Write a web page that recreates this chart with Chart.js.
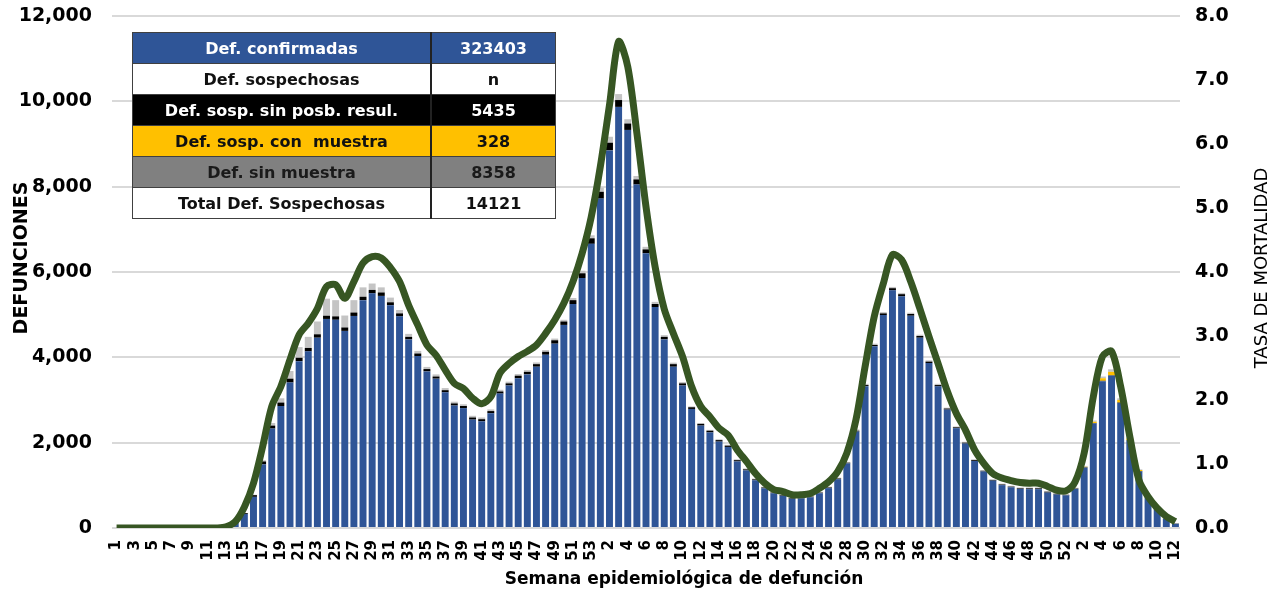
<!DOCTYPE html>
<html>
<head>
<meta charset="utf-8">
<script src="https://cdn.jsdelivr.net/npm/chart.js@4.4.1/dist/chart.umd.min.js"></script>
<style>
  body { margin: 0; background: #fff; }
  #wrap { position: relative; width: 1278px; height: 593px; }
  #resumen {
    position: absolute; left: 132px; top: 32px; width: 424px; height: 186px;
    border-collapse: collapse; font-family: "DejaVu Sans", sans-serif; font-weight: bold; font-size: 16px;
  }
  #resumen td { border: 1px solid #404040; text-align: center; padding: 0; height: 30px; }
  #resumen td:first-child { width: 297px; }
  #resumen td:last-child { border-left: 2px solid #222; }
  .r1 td { background: #2F5597; color: #fff; }
  .r2 td { background: #fff; color: #111; }
  .r3 td { background: #000; color: #fff; }
  .r4 td { background: #FFC000; color: #111; }
  .r5 td { background: #808080; color: #1a1a1a; }
  .r6 td { background: #fff; color: #111; }
</style>
</head>
<body>
<div id="wrap">
  <canvas id="myChart" width="1278" height="593"></canvas>
  <table id="resumen">
    <tr class="r1"><td>Def. confirmadas</td><td>323403</td></tr>
    <tr class="r2"><td>Def. sospechosas</td><td>n</td></tr>
    <tr class="r3"><td>Def. sosp. sin posb. resul.</td><td>5435</td></tr>
    <tr class="r4"><td>Def. sosp. con&nbsp; muestra</td><td>328</td></tr>
    <tr class="r5"><td>Def. sin muestra</td><td>8358</td></tr>
    <tr class="r6"><td>Total Def. Sospechosas</td><td>14121</td></tr>
  </table>
</div>
<script>
// semanas epidemiologicas 2020 / 2021 / 2022
const semanas2020 = ['1','2','3','4','5','6','7','8','9','10','11','12','13','14','15','16','17','18','19','20','21','22','23','24','25','26','27','28','29','30','31','32','33','34','35','36','37','38','39','40','41','42','43','44','45','46','47','48','49','50','51','52','53'];
const semanas2021 = ['1','2','3','4','5','6','7','8','9','10','11','12','13','14','15','16','17','18','19','20','21','22','23','24','25','26','27','28','29','30','31','32','33','34','35','36','37','38','39','40','41','42','43','44','45','46','47','48','49','50','51','52'];
const semanas2022 = ['1','2','3','4','5','6','7','8','9','10','11','12'];
const semanas = semanas2020.concat(semanas2021, semanas2022);

// defunciones confirmadas (azul)
const confirmadas = [
  0,0,0,0,0,0,0,0,0,0,0,0,30,160,330,730,1490,2330,2860,3410,3910,4140,4460,4900,4880,4620,4970,5340,5500,5440,5220,4960,4420,4030,3670,3500,3180,2870,2810,2540,2500,2690,3150,3340,3510,3600,3780,4060,4320,4760,5250,5860,6660,
  7720,8850,9870,9330,8050,6440,5180,4420,3780,3340,2790,2400,2240,2025,1900,1560,1350,1120,930,815,755,685,695,720,815,935,1145,1515,2260,3325,4260,4990,5570,5430,4975,4460,3865,3320,2775,2340,1980,1570,1325,1110,1005,955,915,910,910,830,785,765,
  915,1415,2450,3440,3570,2930,2050,1325,715,450,220,100
];
// sospechosas sin posibilidad de resultado (negro)
const sinPosResul = [
  0,0,0,0,0,0,0,0,0,0,0,0,0,10,20,40,70,70,80,90,80,80,80,75,80,80,80,80,80,80,70,70,60,60,55,50,50,50,50,50,50,50,50,50,60,60,60,70,80,80,90,110,130,
  160,180,160,150,120,90,70,60,60,50,40,40,40,35,30,30,25,20,20,15,15,15,15,15,15,15,15,15,20,25,30,40,50,50,40,40,35,30,25,20,20,20,15,15,15,15,15,20,20,20,15,10,
  10,10,10,10,10,10,10,10,5,5,5,5
];
// sospechosas con muestra (amarillo)
const conMuestra = [
  0,0,0,0,0,0,0,0,0,0,0,0,0,0,0,0,0,0,0,0,0,0,0,0,0,0,0,0,0,0,0,0,0,0,0,0,0,0,0,0,0,0,0,0,0,0,0,0,0,0,0,0,0,
  0,0,0,0,0,0,0,0,0,0,0,0,0,0,0,0,0,0,0,0,0,0,0,0,0,0,0,0,0,0,0,0,0,0,0,0,0,0,0,0,0,0,0,0,0,0,0,0,0,0,0,0,
  0,10,30,60,80,60,40,25,12,6,3,2
];
// sin muestra (gris)
const sinMuestra = [
  0,0,0,0,0,0,0,0,0,0,0,0,0,0,0,10,30,60,100,180,250,260,300,400,380,280,290,220,150,120,110,80,70,60,50,50,50,40,40,40,40,40,40,40,40,40,40,40,40,40,50,60,70,
  100,140,140,100,80,60,50,40,35,30,20,20,20,20,20,20,20,20,20,20,20,20,20,20,20,20,20,20,30,30,30,30,30,30,30,30,30,30,20,20,20,20,20,20,20,20,20,20,20,20,20,20,
  20,20,30,40,60,40,20,15,10,10,5,5
];
// tasa de mortalidad (eje derecho)
const tasa = [
  0,0,0,0,0,0,0,0,0,0,0,0,0.02,0.10,0.33,0.70,1.27,1.90,2.21,2.63,3.02,3.20,3.43,3.77,3.80,3.59,3.85,4.14,4.24,4.22,4.07,3.85,3.48,3.17,2.86,2.70,2.47,2.26,2.18,2.03,1.94,2.05,2.42,2.57,2.68,2.76,2.86,3.04,3.25,3.51,3.85,4.29,4.86,
  5.65,6.61,7.60,7.21,6.17,5.02,4.08,3.42,3.04,2.68,2.21,1.90,1.74,1.56,1.45,1.22,1.04,0.85,0.70,0.60,0.57,0.52,0.52,0.54,0.62,0.72,0.88,1.17,1.69,2.52,3.30,3.82,4.27,4.19,3.85,3.43,2.99,2.57,2.14,1.79,1.53,1.22,1.01,0.85,0.78,0.74,0.71,0.70,0.70,0.65,0.59,0.58,
  0.72,1.17,2.05,2.68,2.76,2.21,1.43,0.75,0.49,0.31,0.18,0.10
];

const tickFont = { family: 'DejaVu Sans', weight: 'bold', size: 19 };

// titulos de ejes dibujados a mano (se solapan con las etiquetas como en el original)
const titulos = {
  id: 'titulos',
  afterDraw(chart) {
    const c = chart.ctx;
    c.save();
    c.fillStyle = '#000';
    c.textAlign = 'center';
    c.textBaseline = 'middle';
    c.font = 'bold 19px "DejaVu Sans"';
    c.translate(22, 258);
    c.rotate(-Math.PI / 2);
    c.fillText('DEFUNCIONES', 0, 0);
    c.restore();

    c.save();
    c.fillStyle = '#000';
    c.textAlign = 'center';
    c.textBaseline = 'middle';
    c.font = '18px "DejaVu Sans"';
    c.translate(1262, 268);
    c.rotate(-Math.PI / 2);
    c.fillText('TASA DE MORTALIDAD', 0, 0);
    c.restore();

    c.save();
    c.fillStyle = '#000';
    c.textAlign = 'center';
    c.textBaseline = 'middle';
    c.font = 'bold 17px "DejaVu Sans"';
    c.fillText('Semana epidemiológica de defunción', 684, 580);
    c.restore();
  }
};

// anchos fijos de ejes y sin relleno extra arriba/abajo
function fijarEje(ancho) {
  return (scale) => {
    scale.width = ancho;
    scale.paddingTop = 0;
    scale.paddingBottom = 0;
  };
}

const ctx = document.getElementById('myChart').getContext('2d');

new Chart(ctx, {
  type: 'bar',
  data: {
    labels: semanas,
    datasets: [
      {
        type: 'line',
        label: 'Tasa de mortalidad',
        data: tasa,
        yAxisID: 'y2',
        borderColor: '#375623',
        borderWidth: 7,
        pointRadius: 0,
        tension: 0.3,
        fill: false,
        order: 0
      },
      { label: 'Def. confirmadas', data: confirmadas, backgroundColor: '#2F5597', stack: 'def', order: 1 },
      { label: 'Def. sosp. sin posb. resul.', data: sinPosResul, backgroundColor: '#000000', stack: 'def', order: 1 },
      { label: 'Def. sosp. con muestra', data: conMuestra, backgroundColor: '#FFC000', stack: 'def', order: 1 },
      { label: 'Def. sin muestra', data: sinMuestra, backgroundColor: '#C4C4C4', stack: 'def', order: 1 }
    ]
  },
  options: {
    responsive: false,
    animation: false,
    layout: { padding: { top: 16, bottom: 0, left: 0, right: 0 } },
    datasets: { bar: { barPercentage: 0.76, categoryPercentage: 1 } },
    plugins: {
      legend: { display: false },
      tooltip: { enabled: false }
    },
    scales: {
      x: {
        stacked: true,
        grid: { display: false },
        border: { display: false },
        afterFit: (scale) => { scale.height = 65; scale.paddingLeft = 0; scale.paddingRight = 0; },
        ticks: {
          autoSkip: false,
          minRotation: 90,
          maxRotation: 90,
          padding: 4,
          color: '#000',
          font: { family: 'DejaVu Sans', weight: 'bold', size: 15 },
          callback: function (value, index) {
            return index % 2 === 0 ? this.getLabelForValue(value) : '';
          }
        }
      },
      y: {
        stacked: true,
        min: 0,
        max: 12000,
        afterFit: fijarEje(112),
        grid: { color: '#D9D9D9', lineWidth: 2, drawTicks: false },
        border: { display: false },
        ticks: {
          stepSize: 2000,
          padding: 20,
          color: '#000',
          font: tickFont,
          callback: (v) => v.toLocaleString('en-US')
        }
      },
      y2: {
        position: 'right',
        min: 0,
        max: 8,
        afterFit: fijarEje(98),
        grid: { display: false, drawTicks: false },
        border: { display: false },
        ticks: {
          stepSize: 1,
          padding: 15,
          color: '#000',
          font: tickFont,
          callback: (v) => v.toFixed(1)
        }
      }
    }
  },
  plugins: [titulos]
});
</script>
</body>
</html>
